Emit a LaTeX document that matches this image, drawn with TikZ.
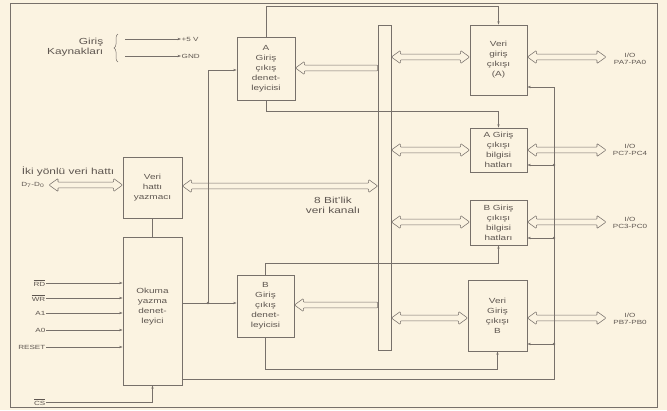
\documentclass[tikz,border=0pt]{standalone}
\usepackage{fontspec}
\setmainfont{Liberation Sans}[FakeStretch=1.35]
\usetikzlibrary{arrows.meta,decorations.pathreplacing,calc}
\definecolor{bgc}{HTML}{FBF3E1}
\definecolor{ln}{HTML}{77706A}
\definecolor{tx}{HTML}{5E5650}
\begin{document}
\begin{tikzpicture}[x=1pt,y=-1pt,
  box/.style={draw=ln, line width=0.8pt, align=center, font=\fontsize{7.4}{10}\selectfont, text=tx, inner sep=1pt},
  lab/.style={text=tx, font=\fontsize{8.8}{10}\selectfont, align=center, inner sep=0.5pt},
  sm/.style={text=tx, font=\fontsize{6}{7}\selectfont, align=center, inner sep=0.5pt},
  ctl/.style={draw=ln, line width=0.5pt},
  ar/.style={-{Stealth[length=3.5pt,width=2.4pt]}},
  twohead/.style={draw=ln, line width=0.55pt, fill=bgc, rounded corners=0.8pt, to path={
    let \p1=(\tikztostart), \p2=(\tikztotarget), \n1={sign(\x2-\x1)} in
    (\x1,\y1) -- (\x1+\n1*9pt,\y1+6.5pt) -- (\x1+\n1*9pt,\y1+2.8pt) -- (\x2-\n1*9pt,\y1+2.8pt)
    -- (\x2-\n1*9pt,\y1+6.5pt) -- (\x2,\y1) -- (\x2-\n1*9pt,\y1-6.5pt) -- (\x2-\n1*9pt,\y1-2.8pt)
    -- (\x1+\n1*9pt,\y1-2.8pt) -- (\x1+\n1*9pt,\y1-6.5pt) -- cycle}},
  onehead/.style={draw=ln, line width=0.55pt, fill=bgc, rounded corners=0.8pt, to path={
    let \p1=(\tikztostart), \p2=(\tikztotarget), \n1={sign(\x2-\x1)} in
    (\x1,\y1+2.8pt) -- (\x2-\n1*9pt,\y1+2.8pt) -- (\x2-\n1*9pt,\y1+6.5pt) -- (\x2,\y1)
    -- (\x2-\n1*9pt,\y1-6.5pt) -- (\x2-\n1*9pt,\y1-2.8pt) -- (\x1,\y1-2.8pt) -- cycle}},
  jdot/.style={circle, fill=ln, inner sep=0pt, minimum size=2.6pt}]
\fill[bgc] (0,0) rectangle (667,410);
\useasboundingbox (0,0) rectangle (667,410);
\draw[ctl] (10,3) rectangle (657,407);

% boxes
\node[box, minimum width=58pt, minimum height=63pt] (aden) at (266,68.5) {A\\Giriş\\çıkış\\denet-\\leyicisi};
\node[box, minimum width=57pt, minimum height=62pt] (bden) at (265.5,306) {B\\Giriş\\çıkış\\denet-\\leyicisi};
\node[box, minimum width=57pt, minimum height=70pt] (veriA) at (498.5,60) {Veri\\giriş\\çıkışı\\(A)};
\node[box, minimum width=57pt, minimum height=44pt] (abil) at (498.5,150) {A Giriş\\çıkışı\\bilgisi\\hatları};
\node[box, minimum width=57pt, minimum height=45pt] (bbil) at (498.5,222.5) {B Giriş\\çıkışı\\bilgisi\\hatları};
\node[box, minimum width=59pt, minimum height=71pt] (veriB) at (497.5,315.5) {Veri\\Giriş\\çıkışı\\B};
\node[box, minimum width=59pt, minimum height=61pt] (yaz) at (152.5,187.5) {Veri\\hattı\\yazmacı};
\node[box, minimum width=59pt, minimum height=148pt] (oku) at (152.5,311) {};
\node[box, draw=none] (okut) at (152.5,307) {Okuma\\yazma\\denet-\\leyici};
\node[draw=ln, line width=0.7pt, minimum width=13pt, minimum height=325pt, inner sep=0pt] (bus) at (384.5,187.5) {};

% Giriş kaynakları
\node[lab, align=right, anchor=east] (gk) at (104,47) {Giriş\\Kaynakları};
\draw[ctl, decorate, decoration={brace, amplitude=4pt}] (118,62) -- (118,34);
\node[sm, anchor=west] (p5) at (181,39) {+5 V};
\node[sm, anchor=west] (gnd) at (181,56) {GND};
\coordinate (g1) at (125,39);
\coordinate (g2) at (125,56);
\draw[ctl, ar] (g1) -- (p5.west);
\draw[ctl, ar] (g2) -- (gnd.west);

% data bus labels
\node[lab] (iki) at (68,172) {İki yönlü veri hattı};
\node[sm, anchor=east] (dd) at (45,185) {D\textsubscript{7}-D\textsubscript{0}};
\coordinate (dl) at (49,185);
\draw[twohead] (dl) to (yaz.west |- dl);
\node[lab] (kanal) at (333,205) {8 Bit'lik\\veri kanalı};

% bus connections
\draw[twohead] (yaz.east |- 0,186) to (bus.west |- 0,186);
\draw[onehead] (bus.west |- 0,68) to (aden.east |- 0,68);
\draw[onehead] (bus.west |- 0,305) to (bden.east |- 0,305);
\draw[twohead] (bus.east |- 0,57) to (veriA.west |- 0,57);
\draw[twohead] (bus.east |- 0,150) to (abil.west |- 0,150);
\draw[twohead] (bus.east |- 0,222) to (bbil.west |- 0,222);
\draw[twohead] (bus.east |- 0,318) to (veriB.west |- 0,318);

% outputs
\node[sm] (oa) at (630,59) {I/O\\PA7-PA0};
\node[sm] (oc1) at (630,150) {I/O\\PC7-PC4};
\node[sm] (oc2) at (630,223) {I/O\\PC3-PC0};
\node[sm] (ob) at (630,319) {I/O\\PB7-PB0};
\coordinate (ea) at (606,57);
\coordinate (ec1) at (606,150);
\coordinate (ec2) at (606,222);
\coordinate (eb) at (606,318);
\draw[twohead] (veriA.east |- ea) to (ea);
\draw[twohead] (abil.east |- ec1) to (ec1);
\draw[twohead] (bbil.east |- ec2) to (ec2);
\draw[twohead] (veriB.east |- eb) to (eb);

% control inputs
\node[sm, anchor=east] (rd) at (46,283) {$\overline{\hbox{RD}}$};
\node[sm, anchor=east] (wr) at (46,298) {$\overline{\hbox{WR}}$};
\node[sm, anchor=east] (a1) at (46,313) {A1};
\node[sm, anchor=east] (a0) at (46,330) {A0};
\node[sm, anchor=east] (rst) at (46,347) {RESET};
\node[sm, anchor=east] (cs) at (46,402) {$\overline{\hbox{CS}}$};
\foreach \n in {rd,wr,a1,a0,rst}
  \draw[ctl, ar] (\n.east) -- (oku.west |- \n.east);
\draw[ctl, ar] (cs.east) -| (oku.south);
\draw[ctl] (yaz.south) -- (oku.north);

% controller links
\coordinate (j1) at (208,303);
\draw[ctl] (oku.east |- j1) -- (j1);
\draw[ctl, ar] (j1) -- (bden.west |- j1);
\draw[ctl, ar] (j1) |- (aden.west |- 0,70);
\node[jdot] (jd1) at (j1) {};

\draw[ctl, ar] (aden.north) -- (aden.north |- 0,6) -| (veriA.north);
\draw[ctl, ar] (aden.south) -- (aden.south |- 0,111) -| (abil.north);
\draw[ctl, ar] (bden.north) -- (bden.north |- 0,263) -| (bbil.south);
\draw[ctl, ar] (bden.south) -- (bden.south |- 0,369) -| (veriB.south);

\coordinate (c1) at (554,379);
\coordinate (c2) at (554,87);
\draw[ctl, ar] (oku.east |- c1) -- (c1) -- (c2) -- (veriA.east |- c2);
\coordinate (d1) at (554,165);
\coordinate (d2) at (554,238);
\coordinate (d3) at (554,344);
\draw[ctl, ar] (d1) -- (abil.east |- d1);
\draw[ctl, ar] (d2) -- (bbil.east |- d2);
\draw[ctl, ar] (d3) -- (veriB.east |- d3);
\node[jdot] at (d1) {};
\node[jdot] at (d2) {};
\node[jdot] at (d3) {};
\end{tikzpicture}
\end{document}
